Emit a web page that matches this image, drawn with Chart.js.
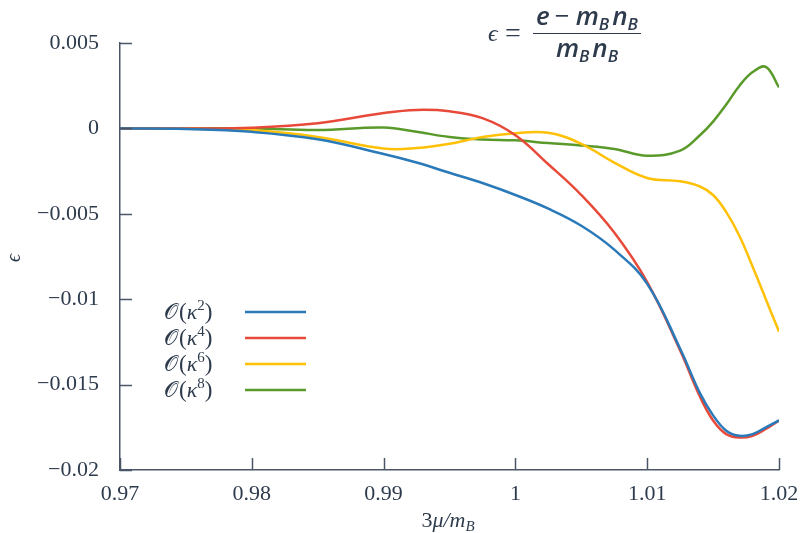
<!DOCTYPE html>
<html><head><meta charset="utf-8">
<script src="https://cdn.jsdelivr.net/npm/chart.js@4.4.1/dist/chart.umd.min.js"></script>
<style>html,body{margin:0;padding:0;background:#fff;}#wrap{width:801px;height:533px;}</style>
</head><body><div id="wrap"><canvas id="c" width="801" height="533"></canvas></div>
<script>
const xValues = [0.97,0.975,0.98,0.985,0.99,0.9925,0.995,0.9975,1.0,1.0025,1.005,1.0075,1.01,1.0125,1.014,1.015,1.016,1.017,1.018,1.019,1.02];
const k2 = [0,-0.00003,-0.0002,-0.00064,-0.0015,-0.002,-0.0026,-0.0032,-0.0039,-0.0047,-0.0057,-0.0071,-0.0091,-0.0129,-0.0155,-0.0168,-0.0177,-0.018,-0.0179,-0.0175,-0.0171];
const k4 = [0,0,0.00004,0.0003,0.0009,0.00108,0.001,0.0006,-0.0004,-0.0021,-0.0039,-0.0061,-0.009,-0.013,-0.0157,-0.0171,-0.0179,-0.0181,-0.018,-0.0176,-0.0171];
const k6 = [0,-0.00002,-0.0001,-0.0005,-0.00118,-0.00115,-0.0009,-0.0005,-0.00028,-0.00026,-0.0009,-0.002,-0.0029,-0.0031,-0.0034,-0.0039,-0.0049,-0.0063,-0.0081,-0.01,-0.0119];
const k8 = [0,0,0,-0.0001,0.00005,-0.0002,-0.0005,-0.00065,-0.0007,-0.00086,-0.001,-0.0012,-0.0016,-0.0013,-0.0004,0.0004,0.0014,0.0025,0.0033,0.0036,0.0024];
const seriesLabels = ['𝒪(κ²)','𝒪(κ⁴)','𝒪(κ⁶)','𝒪(κ⁸)'];
const seriesPowers = ['2','4','6','8'];
const seriesColors = ['#2a7ab9','#e84a3a','#ffc107','#5a9a2a'];
const xTickValues = [0.97,0.98,0.99,1.0,1.01,1.02];
const xTickLabels = ['0.97','0.98','0.99','1','1.01','1.02'];
const yTickValues = [0.005,0,-0.005,-0.01,-0.015,-0.02];
const yTickLabels = ['0.005','0','\u22120.005','\u22120.01','\u22120.015','\u22120.02'];

const AXIS = '#4a5668';
const TXT = '#2e3b4d';
const SERIF = '"Liberation Serif", "DejaVu Serif", serif';

function mk(vals){ return xValues.map((x,i)=>({x:x,y:vals[i]})); }
const all = [k2,k4,k6,k8];
const datasets = all.map((v,i)=>({label:seriesLabels[i],data:mk(v),borderColor:seriesColors[i],borderWidth:2.5,pointRadius:0,tension:0.4,fill:false}));

function runs(ctx, parts, x, y){
  let cx = x;
  for (const p of parts){
    ctx.font = p.f;
    ctx.fillText(p.t, cx, y + (p.dy||0));
    cx += ctx.measureText(p.t).width + (p.sp||0);
  }
  return cx;
}
function width(ctx, parts){ let w=0; for(const p of parts){ctx.font=p.f; w+=ctx.measureText(p.t).width+(p.sp||0);} return w; }

const deco = {
  id:'deco',
  afterDraw(chart){
    const ctx = chart.ctx, xs = chart.scales.x, ys = chart.scales.y;
    const L = chart.chartArea.left, B = chart.chartArea.bottom;
    ctx.save();
    ctx.strokeStyle = AXIS; ctx.lineWidth = 1.5;
    yTickValues.forEach(v=>{ const py = Math.round(ys.getPixelForValue(v))+0.5; ctx.beginPath(); ctx.moveTo(L,py); ctx.lineTo(L+12,py); ctx.stroke(); });
    xTickValues.forEach(v=>{ const px = Math.round(xs.getPixelForValue(v))+0.5; ctx.beginPath(); ctx.moveTo(px,B); ctx.lineTo(px,B-12); ctx.stroke(); });
    // legend
    ctx.textBaseline = 'alphabetic'; ctx.textAlign='left';
    const rows = [312,338,364,390];
    seriesPowers.forEach((pw,i)=>{
      ctx.fillStyle = TXT;
      const parts = [{t:'𝒪',f:'22px '+SERIF,sp:1},{t:'(',f:'23px '+SERIF},{t:'κ',f:'italic 22px '+SERIF},{t:pw,f:'15px '+SERIF,dy:-9},{t:')',f:'23px '+SERIF}];
      runs(ctx, parts, 164, rows[i]+7);
      ctx.strokeStyle = seriesColors[i]; ctx.lineWidth = 2.5;
      ctx.beginPath(); ctx.moveTo(245, rows[i]); ctx.lineTo(306, rows[i]); ctx.stroke();
    });
    // formula
    const SANS = '"Open Sans", "Noto Sans", sans-serif';
    const fB = 'italic 600 26px ' + SANS, fS = 'italic 600 17px ' + SANS, fU = '26px ' + SANS;
    ctx.fillStyle = TXT;
    ctx.font = 'italic 24px ' + SERIF;
    ctx.fillText('\u03F5', 488, 41);
    ctx.font = '28px ' + SERIF;
    ctx.fillText('=', 505, 42);
    const num = [{t:'e',f:fB,sp:5},{t:'\u2212',f:fU,sp:6},{t:'m',f:fB},{t:'B',f:fS,dy:5,sp:3},{t:'n',f:fB},{t:'B',f:fS,dy:5}];
    const den = [{t:'m',f:fB},{t:'B',f:fS,dy:5,sp:3},{t:'n',f:fB},{t:'B',f:fS,dy:5}];
    const cxm = 587;
    runs(ctx, num, cxm - width(ctx,num)/2, 25);
    runs(ctx, den, cxm - width(ctx,den)/2, 57);
    ctx.strokeStyle = TXT; ctx.lineWidth = 1.2;
    ctx.beginPath(); ctx.moveTo(533, 33.5); ctx.lineTo(641, 33.5); ctx.stroke();
    // x axis title
    const xt = [{t:'3',f:'22px '+SERIF},{t:'\u03BC/',f:'italic 22px '+SERIF},{t:'m',f:'italic 22px '+SERIF},{t:'B',f:'italic 15px '+SERIF,dy:4}];
    ctx.fillStyle = TXT;
    runs(ctx, xt, 448 - width(ctx,xt)/2, 527);
    // y axis title
    ctx.save(); ctx.translate(20, 258); ctx.rotate(-Math.PI/2);
    ctx.font = 'italic 20px ' + SERIF; ctx.textAlign = 'center'; ctx.fillText('\u03F5', 0, 0);
    ctx.restore();
    ctx.restore();
  }
};

new Chart(document.getElementById('c'), {
  type:'line',
  data:{datasets:datasets},
  options:{
    responsive:false, animation:false, devicePixelRatio:1,
    layout:{padding:{top:43,right:22,left:0,bottom:0}},
    plugins:{legend:{display:false},tooltip:{enabled:false}},
    scales:{
      x:{type:'linear',min:0.97,max:1.02,
        afterBuildTicks(s){ s.ticks = xTickValues.map(v=>({value:v})); },
        afterFit(s){ s.height = 63; s.paddingLeft = 0; s.paddingRight = 0; },
        grid:{display:false}, border:{display:true,color:AXIS,width:1.5},
        ticks:{padding:3,color:TXT,font:{family:SERIF,size:22},maxRotation:0,autoSkip:false,
          callback:(v,i)=>xTickLabels[i]}},
      y:{type:'linear',min:-0.02,max:0.005,
        afterBuildTicks(s){ s.ticks = yTickValues.map(v=>({value:v})); },
        afterFit(s){ s.width = 120; s.paddingTop = 0; s.paddingBottom = 0; },
        grid:{display:false}, border:{display:true,color:AXIS,width:1.5},
        ticks:{padding:13,color:TXT,font:{family:SERIF,size:22},autoSkip:false,
          callback:(v,i)=>yTickLabels[i]}}
    }
  },
  plugins:[deco]
});
</script></body></html>
